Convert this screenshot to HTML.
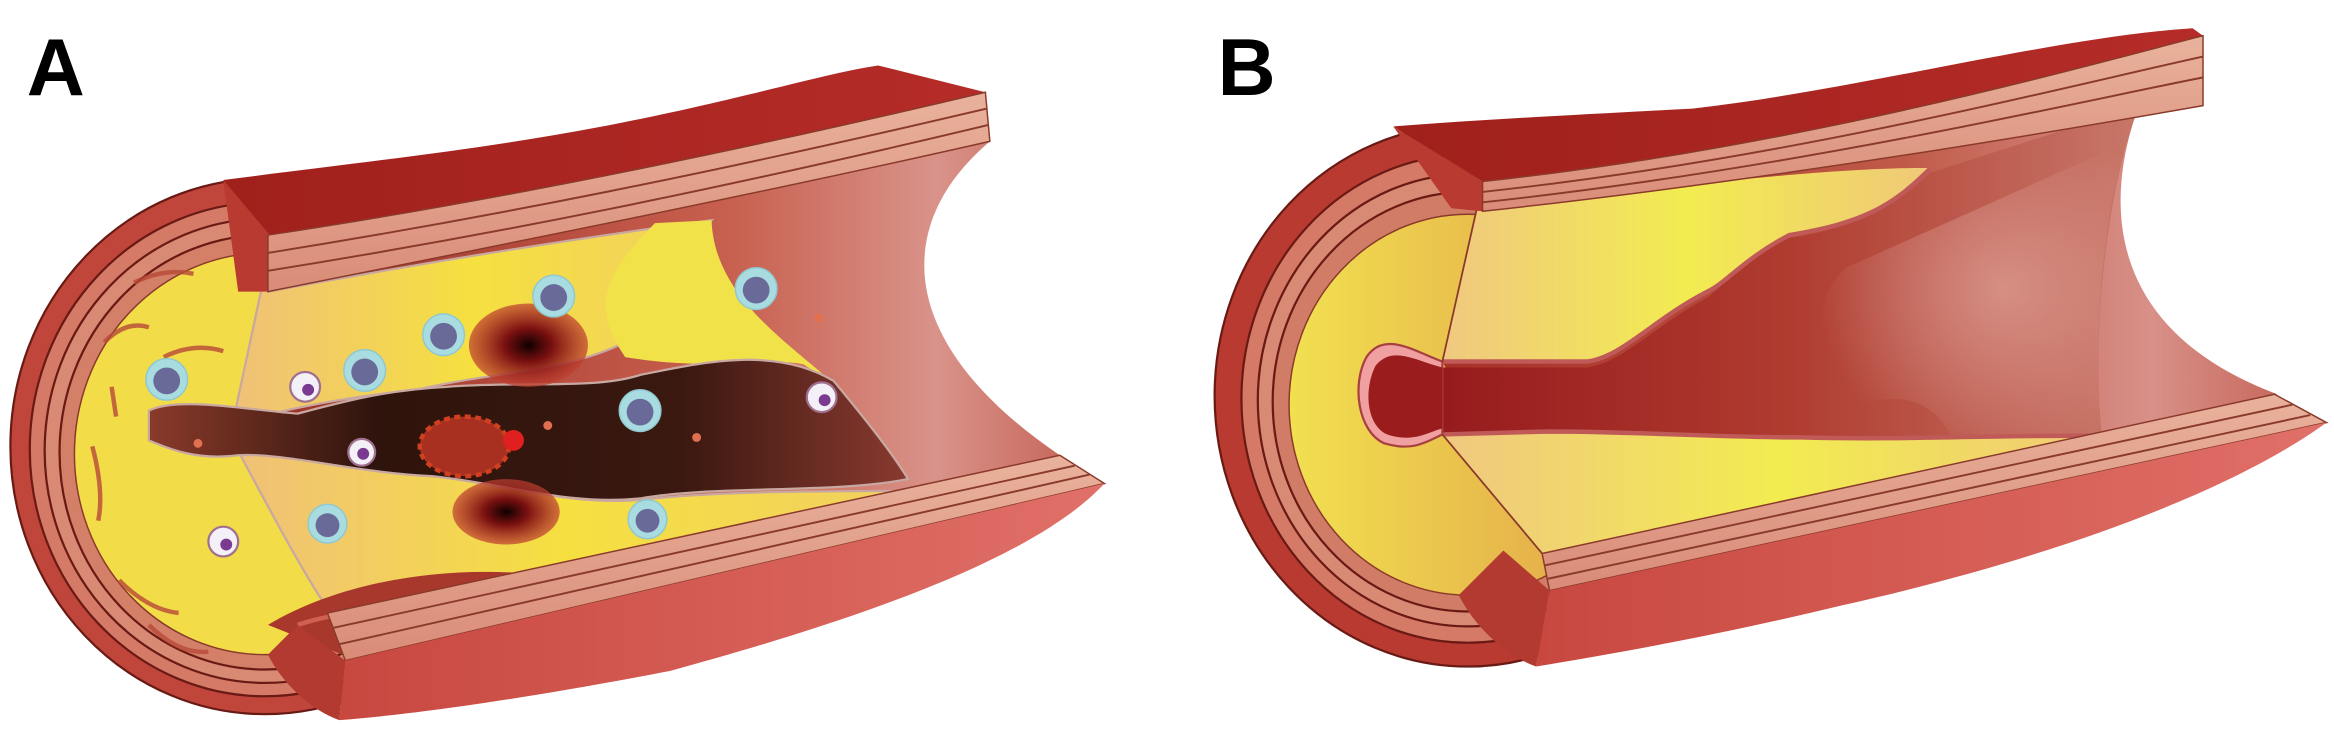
<!DOCTYPE html>
<html><head><meta charset="utf-8"><style>
html,body{margin:0;padding:0;background:#fff;}
svg{display:block;}
</style></head><body>
<svg width="2334" height="732" viewBox="0 0 1568 492" preserveAspectRatio="none" xmlns="http://www.w3.org/2000/svg">
<defs>
<linearGradient id="far" x1="0" y1="0" x2="1" y2="0">
<stop offset="0" stop-color="#9a2e24"/><stop offset="0.6" stop-color="#c8604f"/><stop offset="0.85" stop-color="#d9938a"/><stop offset="1" stop-color="#c86a5e"/></linearGradient>
<linearGradient id="farB" x1="0" y1="0" x2="1" y2="0">
<stop offset="0" stop-color="#a83028"/><stop offset="0.55" stop-color="#c05a48"/><stop offset="0.85" stop-color="#d89088"/><stop offset="1" stop-color="#c86a5e"/></linearGradient>
<linearGradient id="topS" x1="0" y1="0" x2="1" y2="0">
<stop offset="0" stop-color="#a0201c"/><stop offset="1" stop-color="#b52c28"/></linearGradient>
<linearGradient id="botS" x1="0" y1="0" x2="1" y2="0">
<stop offset="0" stop-color="#c84840"/><stop offset="1" stop-color="#e07068"/></linearGradient>
<linearGradient id="band" x1="0" y1="0" x2="0" y2="1">
<stop offset="0" stop-color="#e9b29c"/><stop offset="1" stop-color="#d98c78"/></linearGradient>
<linearGradient id="yelA" x1="0" y1="0" x2="1" y2="0">
<stop offset="0" stop-color="#f0c078"/><stop offset="0.5" stop-color="#f5e040"/><stop offset="1" stop-color="#f2d060"/></linearGradient>
<linearGradient id="yelB" x1="0" y1="0" x2="1" y2="0">
<stop offset="0" stop-color="#f0c880"/><stop offset="0.5" stop-color="#f2ec50"/><stop offset="1" stop-color="#f0c878"/></linearGradient>
<linearGradient id="csB" x1="0" y1="0" x2="1" y2="0">
<stop offset="0" stop-color="#f2e050"/><stop offset="1" stop-color="#e0a048"/></linearGradient>
<linearGradient id="lumA" x1="0" y1="0" x2="1" y2="0">
<stop offset="0" stop-color="#8a3a2a"/><stop offset="0.3" stop-color="#2e140c"/><stop offset="0.7" stop-color="#3a1810"/><stop offset="1" stop-color="#8a3a30"/></linearGradient>
<linearGradient id="lumB" x1="966" y1="0" x2="1440" y2="0" gradientUnits="userSpaceOnUse">
<stop offset="0" stop-color="#961a1c"/><stop offset="0.5" stop-color="#b03c30"/><stop offset="1" stop-color="#c8786a"/></linearGradient>
<radialGradient id="blob"><stop offset="0" stop-color="#100000"/><stop offset="0.4" stop-color="#7a1010"/><stop offset="1" stop-color="#c04030" stop-opacity="0.7"/></radialGradient>
<radialGradient id="bulge" cx="0.6" cy="0.5" r="0.6"><stop offset="0" stop-color="#dc9a90" stop-opacity="0.8"/><stop offset="1" stop-color="#dc9a90" stop-opacity="0"/></radialGradient>
</defs>

<!-- ===== PANEL A ===== -->
<text x="18" y="64" font-family="Liberation Sans, sans-serif" font-weight="bold" font-size="54" fill="#000">A</text>
<ellipse cx="178" cy="300" rx="171" ry="180" fill="#c0463c" stroke="#6a1a14" stroke-width="1.5"/>
<ellipse cx="178" cy="302" rx="158" ry="166" fill="#d47a66" stroke="#6a1a14" stroke-width="1.5"/>
<ellipse cx="178" cy="303" rx="148" ry="156" fill="#d98a74" stroke="#6a1a14" stroke-width="1.5"/>
<ellipse cx="178" cy="304" rx="138" ry="146" fill="#d48068" stroke="#6a1a14" stroke-width="1.5"/>
<ellipse cx="178" cy="305" rx="128" ry="135" fill="#f2dc48" stroke="#8a3a2a" stroke-width="1"/>
<g stroke="#b84a38" stroke-width="3" fill="none" opacity="0.8">
<path d="M70,230 Q85,215 100,220"/><path d="M62,300 Q70,330 66,350"/><path d="M80,390 Q100,410 120,412"/><path d="M90,190 Q110,180 130,184"/><path d="M110,240 Q130,230 150,236"/><path d="M75,260 L78,280"/><path d="M100,420 Q120,440 140,438"/></g>
<path d="M180,196 Q400,150 665,95 C600,150 600,230 712,306 L220,412 L160,290 Z" fill="url(#far)"/>
<path d="M183,160 L180,196 Q330,168 478,148 C450,180 440,210 420,230 C380,250 330,250 280,262 C220,268 170,280 156,286 Z" fill="url(#yelA)" stroke="#c8a8a0" stroke-width="1.5"/>
<path d="M440,150 C400,190 400,210 420,240 C480,250 520,240 540,245 L560,258 C530,230 480,200 478,148 Z" fill="#f2e24a"/>
<path d="M156,296 C200,300 240,318 290,320 C340,325 380,340 430,336 C480,330 560,330 605,330 L600,332 L222,412 C200,380 175,330 156,296 Z" fill="url(#yelA)" stroke="#c8a8a0" stroke-width="1.5"/>
<path d="M180,420 C230,390 300,380 360,386 C420,380 470,370 520,360 L540,352 L230,440 Z" fill="#a8382c"/>
<g stroke="#d06050" stroke-width="3" fill="none"><path d="M200,420 Q230,410 260,412"/><path d="M270,404 Q300,396 330,400"/><path d="M340,398 Q370,390 400,392"/><path d="M410,386 Q440,378 470,380"/></g>
<path d="M100,276 C120,266 170,276 200,278 C230,270 260,262 300,260 C350,256 400,262 430,252 C470,244 520,232 560,256 C580,280 600,305 610,322 C560,332 480,326 430,335 C380,340 340,325 290,320 C240,318 190,304 160,306 C130,310 110,300 100,296 Z" fill="url(#lumA)" stroke="#c8a8a0" stroke-width="1.5"/>
<ellipse cx="355" cy="232" rx="40" ry="28" fill="url(#blob)"/>
<ellipse cx="340" cy="344" rx="36" ry="22" fill="url(#blob)"/>
<ellipse cx="312" cy="300" rx="30" ry="20" fill="#a83020" stroke="#d04020" stroke-width="3" stroke-dasharray="4 3"/>
<circle cx="345" cy="296" r="7" fill="#e02020"/>
<g fill="#a8dce0" stroke="#90c8d0">
<circle cx="112" cy="255" r="14"/><circle cx="245" cy="249" r="14"/><circle cx="298" cy="225" r="14"/><circle cx="372" cy="199" r="14"/><circle cx="508" cy="194" r="14"/><circle cx="430" cy="276" r="14"/><circle cx="220" cy="352" r="13"/><circle cx="435" cy="349" r="13"/></g>
<g fill="#6a6a98">
<circle cx="112" cy="256" r="9"/><circle cx="245" cy="250" r="9"/><circle cx="298" cy="226" r="9"/><circle cx="372" cy="200" r="9"/><circle cx="508" cy="195" r="9"/><circle cx="430" cy="277" r="9"/><circle cx="220" cy="353" r="8"/><circle cx="435" cy="350" r="8"/></g>
<g fill="#f4f0f8" stroke="#a07090" stroke-width="1.5">
<circle cx="205" cy="260" r="10"/><circle cx="243" cy="304" r="9"/><circle cx="150" cy="364" r="10"/><circle cx="552" cy="267" r="10"/></g>
<g fill="#7a3a90"><circle cx="207" cy="262" r="4"/><circle cx="244" cy="305" r="4"/><circle cx="152" cy="366" r="4"/><circle cx="554" cy="269" r="4"/></g>
<g fill="#e07050"><circle cx="133" cy="298" r="3"/><circle cx="368" cy="286" r="3"/><circle cx="468" cy="294" r="3"/><circle cx="550" cy="214" r="3"/></g>
<path d="M150,121 C250,108 330,100 420,82 C500,66 560,48 590,44 L662,62 C560,90 420,120 300,140 C250,148 210,155 180,158 Z" fill="url(#topS)"/>
<path d="M150,121 L183,160 L180,196 L160,196 Z" fill="#b83a30"/>
<path d="M180,158 C300,140 460,110 662,62 L665,95 C520,128 360,160 180,196 Z" fill="url(#band)" stroke="#8a3a2a" stroke-width="1"/>
<path d="M180,170 C330,146 480,116 663,73" fill="none" stroke="#8a3a2a" stroke-width="1.3"/>
<path d="M180,182 C330,158 480,128 664,84" fill="none" stroke="#8a3a2a" stroke-width="1.3"/>
<path d="M220,412 L712,306 L742,325 L232,444 Z" fill="url(#band)" stroke="#8a3a2a" stroke-width="1"/>
<path d="M224,422 L722,313" fill="none" stroke="#8a3a2a" stroke-width="1.3"/>
<path d="M228,433 L732,319" fill="none" stroke="#8a3a2a" stroke-width="1.3"/>
<path d="M232,444 L742,325 C700,370 600,410 450,451 C350,470 280,480 228,484 Z" fill="url(#botS)"/>
<path d="M200,420 L232,444 L228,484 C210,478 190,460 180,440 Z" fill="#b23a30"/>

<!-- ===== PANEL B ===== -->
<text x="818" y="64" font-family="Liberation Sans, sans-serif" font-weight="bold" font-size="54" fill="#000">B</text>
<ellipse cx="986" cy="266" rx="170" ry="182" fill="#b83a30" stroke="#6a1a14" stroke-width="1.5"/>
<ellipse cx="986" cy="268" rx="152" ry="164" fill="#d47a66" stroke="#6a1a14" stroke-width="1.5"/>
<ellipse cx="986" cy="269" rx="141" ry="152" fill="#d98a74" stroke="#6a1a14" stroke-width="1.5"/>
<ellipse cx="986" cy="270" rx="131" ry="141" fill="#d07c66" stroke="#6a1a14" stroke-width="1.5"/>
<ellipse cx="986" cy="272" rx="120" ry="128" fill="url(#csB)" stroke="#8a3a2a" stroke-width="1"/>
<path d="M996,142 Q1200,110 1437,71 C1415,130 1410,220 1530,265 L1036,372 L969,243 Z" fill="url(#farB)"/>
<!-- lumen -->
<path d="M966,247 L1066,247 C1090,244 1110,220 1147,200 C1160,190 1170,175 1202,160 C1250,152 1270,140 1297,116 L1437,71 C1415,130 1405,220 1412,293 C1350,292 1280,296 1210,294 C1150,294 1100,290 1040,290 L966,292 Z" fill="url(#lumB)"/>
<path d="M1240,180 C1210,210 1215,260 1250,272 C1280,262 1300,272 1310,292 L1412,293 C1405,220 1415,130 1430,95 Z" fill="url(#bulge)"/>
<path d="M996,142 C1120,124 1240,112 1297,113 C1270,140 1250,150 1202,158 C1170,175 1160,190 1147,196 C1110,215 1090,240 1066,243 L969,243 L996,123 Z" fill="url(#yelB)"/>
<path d="M1297,113 C1270,140 1250,150 1202,158 C1170,175 1160,190 1147,196 C1110,215 1090,240 1066,243 L969,243" fill="none" stroke="#c05a58" stroke-width="3"/>
<path d="M969,292 L1040,290 C1100,290 1150,294 1210,294 C1280,296 1350,292 1412,293 L1420,300 L1036,372 Z" fill="url(#yelB)"/>
<path d="M969,292 L1040,290 C1100,290 1150,294 1210,294 C1280,296 1350,292 1412,293" fill="none" stroke="#c05a58" stroke-width="3"/>
<path d="M969,243 C950,236 930,222 918,240 C908,258 912,290 930,298 C950,304 960,296 969,292 Z" fill="#f0a0a0" stroke="#a84040" stroke-width="1.5"/>
<path d="M969,247 C950,242 935,232 924,246 C916,262 918,286 932,292 C950,298 960,290 969,288 Z" fill="#9a1c1c"/>
<path d="M996,123 L969,243 M969,292 L1036,372" stroke="#8a3a2a" stroke-width="1.2" fill="none"/>
<path d="M936,85 C1000,80 1080,76 1137,73 C1250,60 1380,25 1473,19 L1480,24 C1380,50 1200,100 996,122 Z" fill="url(#topS)"/>
<path d="M936,85 L996,122 L996,142 L975,140 Z" fill="#b83a30"/>
<path d="M996,122 C1200,100 1380,50 1480,24 L1480,71 C1400,85 1200,120 996,142 Z" fill="url(#band)" stroke="#8a3a2a" stroke-width="1"/>
<path d="M996,129 C1200,107 1380,60 1480,38" fill="none" stroke="#8a3a2a" stroke-width="1.3"/>
<path d="M996,136 C1200,114 1380,72 1480,52" fill="none" stroke="#8a3a2a" stroke-width="1.3"/>
<path d="M1036,372 L1528,265 L1563,284 L1041,397 Z" fill="url(#band)" stroke="#8a3a2a" stroke-width="1"/>
<path d="M1038,380 L1540,272" fill="none" stroke="#8a3a2a" stroke-width="1.3"/>
<path d="M1040,389 L1552,279" fill="none" stroke="#8a3a2a" stroke-width="1.3"/>
<path d="M1041,397 L1563,284 C1500,330 1380,375 1237,407 C1150,428 1080,440 1032,448 Z" fill="url(#botS)"/>
<path d="M1010,370 L1041,397 L1032,448 C1010,440 990,420 980,400 Z" fill="#b23a30"/>
</svg>
</body></html>
